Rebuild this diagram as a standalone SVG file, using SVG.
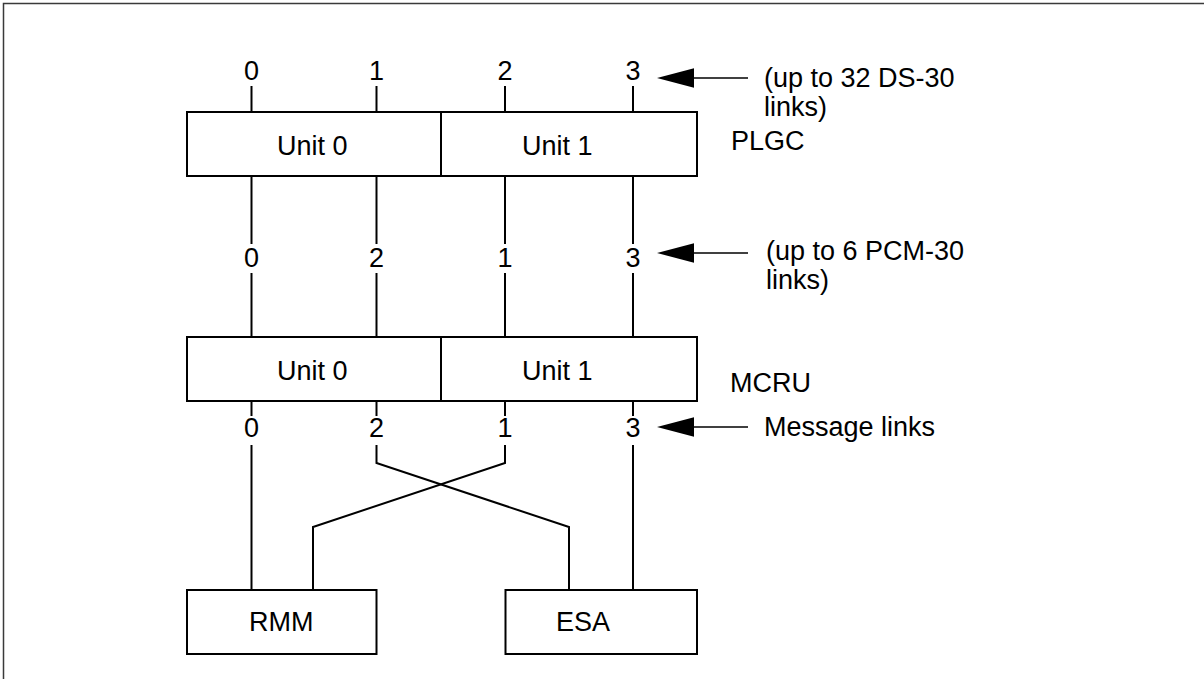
<svg xmlns="http://www.w3.org/2000/svg" width="1204" height="679" viewBox="0 0 1204 679">
  <defs>
    <style>
      .box { fill: #ffffff; stroke: #000000; stroke-width: 2; }
      .wire { fill: none; stroke: #000000; stroke-width: 2; stroke-linejoin: miter; }
      .lead { fill: none; stroke: #000000; stroke-width: 1.3; }
      .head { fill: #000000; stroke: none; }
      .t { font-family: "Liberation Sans", Arial, Helvetica, sans-serif; font-size: 27px; fill: #000000; }
      .c { text-anchor: middle; }
      .frame { fill: none; stroke: #3a3a3a; stroke-width: 1.5; }
    </style>
  </defs>

  <rect x="0" y="0" width="1204" height="679" fill="#ffffff"/>
  <!-- page frame (top and left edges) -->
  <path class="frame" d="M3.5,679 V3.5 H1204"/>

  <!-- link wires -->
  <g id="connectors">
    <!-- DS-30 links into PLGC -->
    <line class="wire" x1="251.5" y1="86" x2="251.5" y2="112"/>
    <line class="wire" x1="376.5" y1="86" x2="376.5" y2="112"/>
    <line class="wire" x1="505" y1="86" x2="505" y2="112"/>
    <line class="wire" x1="633" y1="86" x2="633" y2="112"/>
    <!-- PCM-30 links, PLGC to MCRU -->
    <line class="wire" x1="251.5" y1="176" x2="251.5" y2="244"/>
    <line class="wire" x1="376.5" y1="176" x2="376.5" y2="244"/>
    <line class="wire" x1="505" y1="176" x2="505" y2="244"/>
    <line class="wire" x1="633" y1="176" x2="633" y2="244"/>
    <line class="wire" x1="251.5" y1="273" x2="251.5" y2="337"/>
    <line class="wire" x1="376.5" y1="273" x2="376.5" y2="337"/>
    <line class="wire" x1="505" y1="273" x2="505" y2="337"/>
    <line class="wire" x1="633" y1="273" x2="633" y2="337"/>
    <!-- message links, MCRU to RMM / ESA -->
    <line class="wire" x1="251.5" y1="401" x2="251.5" y2="416"/>
    <line class="wire" x1="376.5" y1="401" x2="376.5" y2="416"/>
    <line class="wire" x1="505" y1="401" x2="505" y2="416"/>
    <line class="wire" x1="633" y1="401" x2="633" y2="416"/>
    <line class="wire" x1="251.5" y1="445" x2="251.5" y2="590"/>
    <polyline class="wire" points="376.5,445 376.5,463 569,527 569,590"/>
    <polyline class="wire" points="505,445 505,463 313,527 313,590"/>
    <line class="wire" x1="633" y1="445" x2="633" y2="590"/>
  </g>

  <!-- link numbers -->
  <g id="link-numbers" class="t c">
    <text x="251.5" y="80">0</text>
    <text x="376.5" y="80">1</text>
    <text x="505" y="80">2</text>
    <text x="633" y="80">3</text>
    <text x="251.5" y="267">0</text>
    <text x="376.5" y="267">2</text>
    <text x="505" y="267">1</text>
    <text x="633" y="267">3</text>
    <text x="251.5" y="437">0</text>
    <text x="376.5" y="437">2</text>
    <text x="505" y="437">1</text>
    <text x="633" y="437">3</text>
  </g>

  <g id="plgc">
    <rect class="box" x="187" y="112" width="510" height="64"/>
    <line class="wire" x1="441" y1="112" x2="441" y2="176"/>
    <text class="t" x="277" y="155">Unit 0</text>
    <text class="t" x="522" y="155">Unit 1</text>
    <text class="t" x="731" y="150">PLGC</text>
  </g>

  <g id="mcru">
    <rect class="box" x="187" y="337" width="510" height="64"/>
    <line class="wire" x1="441" y1="337" x2="441" y2="401"/>
    <text class="t" x="277" y="380">Unit 0</text>
    <text class="t" x="522" y="380">Unit 1</text>
    <text class="t" x="730" y="392">MCRU</text>
  </g>

  <g id="rmm">
    <rect class="box" x="187" y="590" width="189.5" height="64"/>
    <text class="t" x="249" y="631">RMM</text>
  </g>

  <g id="esa">
    <rect class="box" x="505.5" y="590" width="191.5" height="64"/>
    <text class="t" x="556" y="631">ESA</text>
  </g>

  <!-- callouts -->
  <g id="callout-ds30">
    <line class="lead" x1="692" y1="78" x2="748" y2="78"/>
    <polygon class="head" points="657,78 694,68.3 694,87.7"/>
    <text class="t" x="764" y="87">(up to 32 DS-30</text>
    <text class="t" x="764" y="116">links)</text>
  </g>

  <g id="callout-pcm30">
    <line class="lead" x1="692" y1="253" x2="748" y2="253"/>
    <polygon class="head" points="657,253 694,243.3 694,262.7"/>
    <text class="t" x="766" y="260">(up to 6 PCM-30</text>
    <text class="t" x="766" y="289">links)</text>
  </g>

  <g id="callout-message">
    <line class="lead" x1="692" y1="427" x2="748" y2="427"/>
    <polygon class="head" points="657,427 694,417.3 694,436.7"/>
    <text class="t" x="764" y="436">Message links</text>
  </g>
</svg>
